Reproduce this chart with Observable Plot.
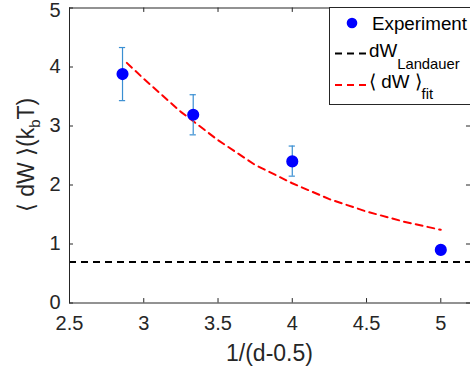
<!DOCTYPE html>
<html>
<head>
<meta charset="utf-8">
<script src="https://cdn.jsdelivr.net/npm/d3@7"></script>
<script src="https://cdn.jsdelivr.net/npm/@observablehq/plot@0.6"></script>
<style>
  html, body { margin: 0; padding: 0; background: #fff; }
  #chart svg { display: block; }
</style>
</head>
<body>
<div id="chart"></div>
<script>
// ---- data ----
const xTicks = [2.5, 3, 3.5, 4, 4.5, 5];
const yTicks = [0, 1, 2, 3, 4, 5];
const expX = [2.857, 3.333, 4.0, 5.0];
const expY = [3.88, 3.19, 2.40, 0.90];
const expLo = [3.43, 2.85, 2.15, 0.83];
const expHi = [4.33, 3.53, 2.66, 0.97];
const landauerY = 0.693;
const fitX = [2.886, 3.0, 3.25, 3.5, 3.75, 4.0, 4.25, 4.5, 4.75, 5.0];
const fitY = [4.07, 3.80, 3.24, 2.76, 2.34, 2.03, 1.76, 1.55, 1.38, 1.24];

const expData = expX.map((x, i) => ({x, y: expY[i], lo: expLo[i], hi: expHi[i]}));
const fitData = fitX.map((x, i) => ({x, y: fitY[i]}));

const W = 470, H = 375;
const mL = 69, mR = 0, mT = 7.5, mB = 72.5;
const axisColor = "#262626";
const font = "'Liberation Sans', Arial, Helvetica, sans-serif";
const capHalf = 0.021; // error-bar cap half width (x units)

const plot = Plot.plot({
  width: W, height: H,
  marginLeft: mL, marginRight: mR, marginTop: mT, marginBottom: mB,
  style: {fontFamily: font, fontSize: "20px", color: axisColor, background: "#fff", overflow: "visible"},
  x: {domain: [2.5, 5.2]},
  y: {domain: [0, 5]},
  marks: [
    Plot.ruleY([landauerY], {stroke: "black", strokeWidth: 2, strokeDasharray: "7,5"}),
    Plot.line(fitData, {x: "x", y: "y", stroke: "#ff0000", strokeWidth: 2, strokeDasharray: "7,5"}),
    Plot.ruleX(expData, {x: "x", y1: "lo", y2: "hi", stroke: "#3a8fd2", strokeWidth: 1.2}),
    Plot.ruleY(expData, {y: "lo", x1: d => d.x - capHalf, x2: d => d.x + capHalf, stroke: "#3a8fd2", strokeWidth: 1.2}),
    Plot.ruleY(expData, {y: "hi", x1: d => d.x - capHalf, x2: d => d.x + capHalf, stroke: "#3a8fd2", strokeWidth: 1.2}),
    Plot.dot(expData, {x: "x", y: "y", r: 5.3, fill: "#0000ff", stroke: "#0000ff"}),
    // inward ticks
    Plot.ruleX(xTicks, {x: d => d, y1: 0, y2: 0.075, stroke: axisColor}),
    Plot.ruleX(xTicks, {x: d => d, y1: 5, y2: 4.925, stroke: axisColor}),
    Plot.ruleY(yTicks, {y: d => d, x1: 2.5, x2: 2.527, stroke: axisColor}),
    Plot.ruleY(yTicks, {y: d => d, x1: 5.2, x2: 5.173, stroke: axisColor}),
    Plot.frame({stroke: axisColor}),
    Plot.axisX(xTicks, {tickSize: 0, tickPadding: 13, label: null, tickFormat: d => String(d)}),
    Plot.axisY(yTicks.filter(d => d < 5), {tickSize: 0, tickPadding: 9, label: null, tickFormat: d => String(d)}),
    Plot.axisY(yTicks.filter(d => d === 5), {tickSize: 0, tickPadding: 9, dy: 3, label: null, tickFormat: d => String(d)})
  ]
});

document.getElementById("chart").appendChild(plot);
const svg = d3.select(plot);

// axis labels
svg.append("text")
  .attr("x", (mL + W - mR) / 2).attr("y", 361)
  .attr("text-anchor", "middle").attr("font-size", 23).attr("fill", axisColor)
  .attr("font-family", font)
  .text("1/(d-0.5)");

const yl = svg.append("text")
  .attr("transform", `translate(34,${(mT + H - mB) / 2}) rotate(-90)`)
  .attr("text-anchor", "middle").attr("font-size", 23).attr("fill", axisColor)
  .attr("font-family", font);
yl.append("tspan").text("\u27E8 dW \u27E9(k");
yl.append("tspan").attr("font-size", 15).attr("dy", 5.5).text("b");
yl.append("tspan").attr("dy", -5.5).text("T)");

// legend
const lg = svg.append("g").attr("font-family", font).attr("fill", "#000").attr("text-anchor", "start");
lg.append("rect").attr("x", 329.5).attr("y", 7.5).attr("width", 200).attr("height", 97)
  .attr("fill", "#fff").attr("stroke", axisColor).attr("stroke-width", 1);
lg.append("circle").attr("cx", 352).attr("cy", 23).attr("r", 5.3).attr("fill", "#0000ff");
lg.append("text").attr("x", 372).attr("y", 29.5).attr("font-size", 18.8).attr("text-anchor", "start").text("Experiment");
lg.append("line").attr("x1", 335).attr("x2", 368).attr("y1", 53.5).attr("y2", 53.5)
  .attr("stroke", "black").attr("stroke-width", 2).attr("stroke-dasharray", "7,5");
const t2 = lg.append("text").attr("x", 369).attr("y", 56.7).attr("font-size", 18.8).attr("text-anchor", "start");
t2.append("tspan").text("dW");
t2.append("tspan").attr("font-size", 14.8).attr("dy", 12).text("Landauer");
lg.append("line").attr("x1", 335).attr("x2", 368).attr("y1", 85).attr("y2", 85)
  .attr("stroke", "#ff0000").attr("stroke-width", 2).attr("stroke-dasharray", "7,5");
const t3 = lg.append("text").attr("x", 369).attr("y", 88.3).attr("font-size", 18.8).attr("text-anchor", "start");
t3.append("tspan").text("\u27E8 dW \u27E9");
t3.append("tspan").attr("font-size", 14.8).attr("dy", 11).text("fit");
</script>
</body>
</html>
